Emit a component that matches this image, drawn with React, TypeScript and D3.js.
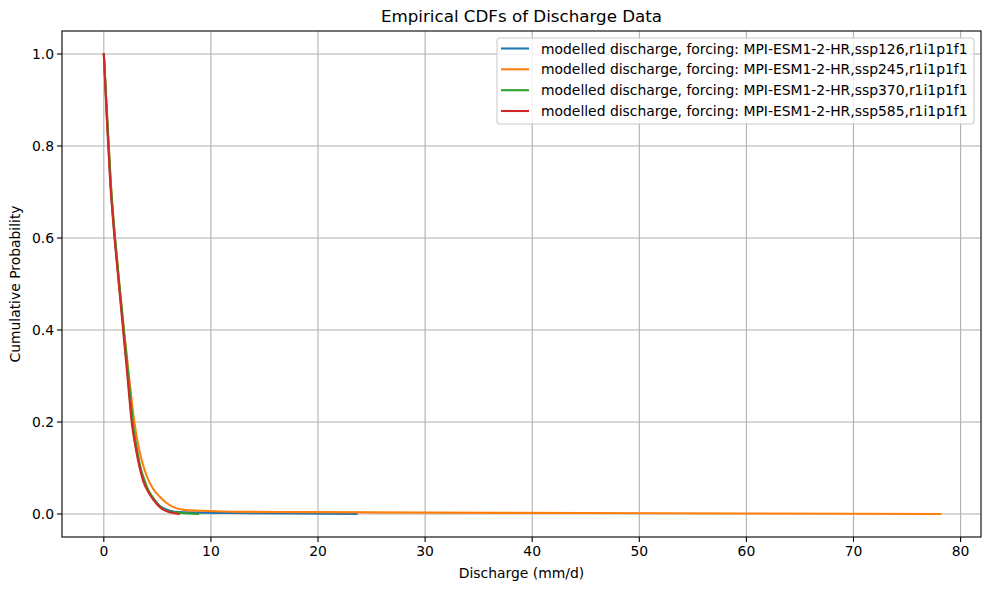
import React from "react";
import * as d3 from "d3";

const seriesNames = [
  "modelled discharge, forcing: MPI-ESM1-2-HR,ssp126,r1i1p1f1",
  "modelled discharge, forcing: MPI-ESM1-2-HR,ssp245,r1i1p1f1",
  "modelled discharge, forcing: MPI-ESM1-2-HR,ssp370,r1i1p1f1",
  "modelled discharge, forcing: MPI-ESM1-2-HR,ssp585,r1i1p1f1",
];
const colors = ["#1f77b4", "#ff7f0e", "#2ca02c", "#d62728"];

const ssp126X = [0, 0.32, 0.62, 1.02, 1.42, 1.83, 2.25, 2.65, 3.05, 3.45, 3.8, 4.15, 4.6, 5.1, 5.6, 6.2, 7, 9, 12, 18, 23.6];
const ssp126Y = [1.0, 0.85, 0.72, 0.6, 0.5, 0.4, 0.3, 0.2, 0.14, 0.095, 0.07, 0.05, 0.035, 0.02, 0.012, 0.007, 0.004, 0.003, 0.002, 0.001, 0.0];

const ssp245X = [0, 0.33, 0.65, 1.05, 1.45, 1.88, 2.35, 2.85, 3.3, 3.75, 4.15, 4.6, 5.2, 5.8, 6.5, 7.5, 9, 12, 20, 30, 45, 60, 78.1];
const ssp245Y = [1.0, 0.85, 0.72, 0.6, 0.5, 0.4, 0.3, 0.2, 0.14, 0.1, 0.074, 0.055, 0.038, 0.025, 0.015, 0.009, 0.007, 0.005, 0.004, 0.003, 0.002, 0.001, 0.0];

const ssp370X = [0, 0.35, 0.65, 1.05, 1.45, 1.87, 2.3, 2.7, 3.1, 3.5, 3.85, 4.2, 4.6, 5.1, 5.6, 6.2, 7.0, 8.0, 8.8];
const ssp370Y = [1.0, 0.85, 0.72, 0.6, 0.5, 0.4, 0.3, 0.2, 0.14, 0.095, 0.07, 0.05, 0.035, 0.02, 0.01, 0.005, 0.003, 0.001, 0.0];

const ssp585X = [0, 0.3, 0.6, 1.0, 1.4, 1.8, 2.2, 2.6, 3.0, 3.4, 3.7, 4.1, 4.5, 5.0, 5.5, 6.0, 6.5, 7.0];
const ssp585Y = [1.0, 0.85, 0.72, 0.6, 0.5, 0.4, 0.3, 0.2, 0.14, 0.095, 0.07, 0.05, 0.035, 0.02, 0.01, 0.005, 0.002, 0.0];

const xTicks = [0, 10, 20, 30, 40, 50, 60, 70, 80];
const yTicks = [0.0, 0.2, 0.4, 0.6, 0.8, 1.0];

const W = 989, H = 590;
const M = { left: 62, right: 981, top: 31, bottom: 537 };
const FONT = "DejaVu Sans, sans-serif";

export default function App() {
  const x = d3.scaleLinear().domain([-3.905, 81.905]).range([M.left, M.right]);
  const y = d3.scaleLinear().domain([-0.05, 1.05]).range([M.bottom, M.top]);
  const seriesX = [ssp126X, ssp245X, ssp370X, ssp585X];
  const seriesY = [ssp126Y, ssp245Y, ssp370Y, ssp585Y];
  const line = d3.line<[number, number]>().x((d) => x(d[0])).y((d) => y(d[1])).curve(d3.curveMonotoneX);

  const lg = { x0: 497, y0: 38, x1: 974, y1: 124 };
  const rowY = [48.5, 69.3, 90.2, 111];

  return (
    <div style={{ position: "absolute", left: 0, top: 0 }}>
      <svg width={W} height={H} style={{ display: "block", fontFamily: FONT }}>
        <rect width={W} height={H} fill="#fff" />
        <defs>
          <clipPath id="plot">
            <rect x={M.left} y={M.top} width={M.right - M.left} height={M.bottom - M.top} />
          </clipPath>
        </defs>
        {xTicks.map((t) => (
          <line key={"gx" + t} x1={x(t)} x2={x(t)} y1={M.top} y2={M.bottom} stroke="#b0b0b0" strokeWidth={1.1} />
        ))}
        {yTicks.map((t) => (
          <line key={"gy" + t} x1={M.left} x2={M.right} y1={y(t)} y2={y(t)} stroke="#b0b0b0" strokeWidth={1.1} />
        ))}
        <g clipPath="url(#plot)">
          {seriesX.map((xs, i) => (
            <path
              key={i}
              d={line(xs.map((v, j) => [v, seriesY[i][j]] as [number, number])) || ""}
              fill="none"
              stroke={colors[i]}
              strokeWidth={2.08}
              strokeLinejoin="round"
              strokeLinecap="square"
            />
          ))}
        </g>
        <rect x={M.left} y={M.top} width={M.right - M.left} height={M.bottom - M.top} fill="none" stroke="#000" strokeWidth={1.1} />
        {xTicks.map((t) => (
          <g key={"tx" + t}>
            <line x1={x(t)} x2={x(t)} y1={M.bottom} y2={M.bottom + 4.9} stroke="#000" strokeWidth={1.1} />
            <text x={x(t)} y={M.bottom + 19} textAnchor="middle" fontSize={13.9} fill="#000">
              {t}
            </text>
          </g>
        ))}
        {yTicks.map((t) => (
          <g key={"ty" + t}>
            <line x1={M.left - 4.9} x2={M.left} y1={y(t)} y2={y(t)} stroke="#000" strokeWidth={1.1} />
            <text x={M.left - 8} y={y(t) + 5} textAnchor="end" fontSize={13.9} fill="#000">
              {t.toFixed(1)}
            </text>
          </g>
        ))}
        <text x={(M.left + M.right) / 2} y={578} textAnchor="middle" fontSize={13.9}>
          Discharge (mm/d)
        </text>
        <text transform={`translate(20,${(M.top + M.bottom) / 2}) rotate(-90)`} textAnchor="middle" fontSize={13.9}>
          Cumulative Probability
        </text>
        <text x={(M.left + M.right) / 2} y={22} textAnchor="middle" fontSize={16.7}>
          Empirical CDFs of Discharge Data
        </text>
        <rect x={lg.x0} y={lg.y0} width={lg.x1 - lg.x0} height={lg.y1 - lg.y0} rx={3} fill="#fff" fillOpacity={0.8} stroke="#cccccc" strokeWidth={1.1} />
        {seriesNames.map((n, i) => (
          <g key={"lg" + i}>
            <line x1={501} x2={529} y1={rowY[i]} y2={rowY[i]} stroke={colors[i]} strokeWidth={2.08} />
            <text x={541} y={rowY[i] + 5} fontSize={13.9} fill="#000">
              {n}
            </text>
          </g>
        ))}
      </svg>
    </div>
  );
}
